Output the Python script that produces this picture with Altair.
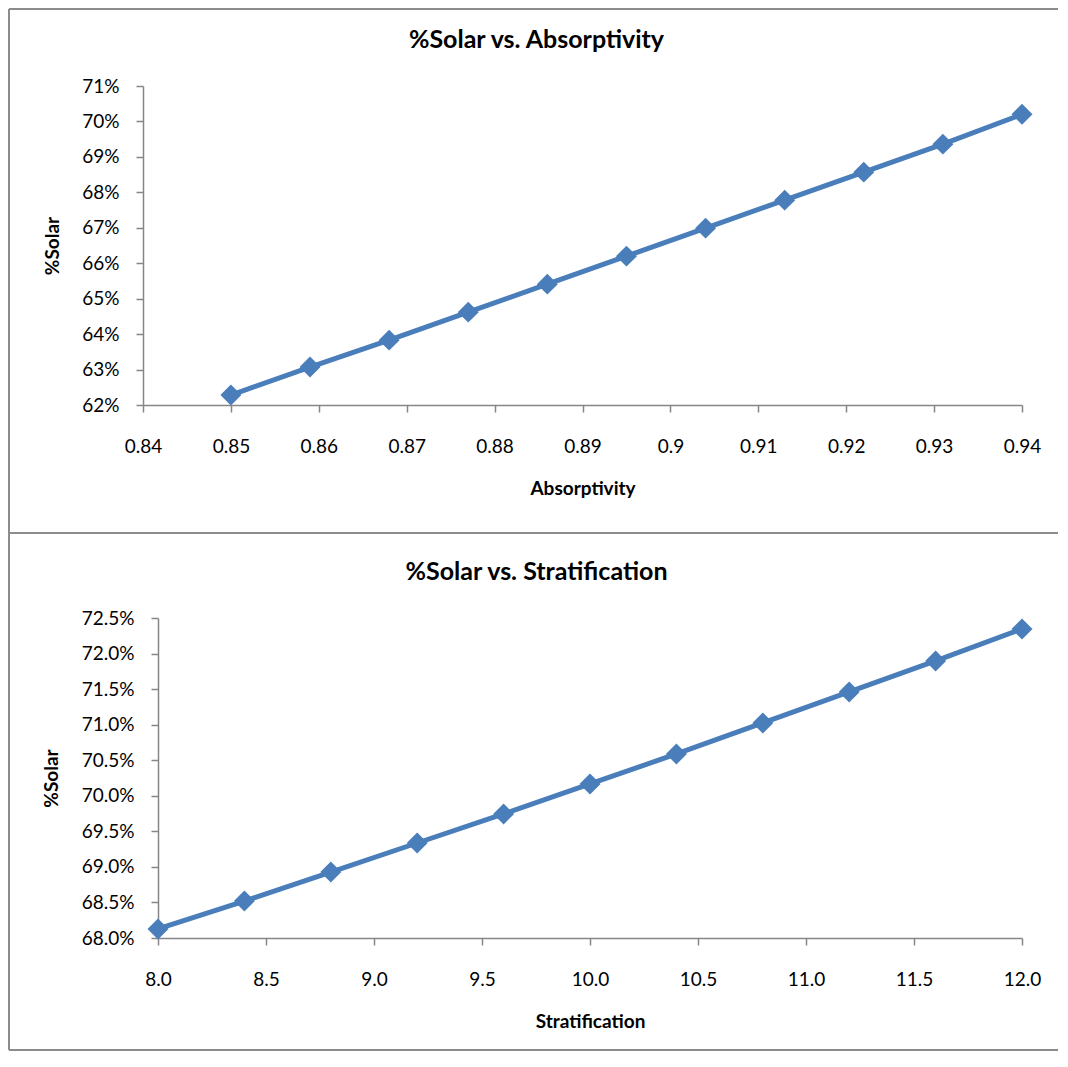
import altair as alt
import pandas as pd

# ---- data ----
absorptivity = [0.85, 0.859, 0.868, 0.877, 0.886, 0.895, 0.904, 0.913, 0.922, 0.931, 0.94]
solar_abs = [0.6228, 0.6307, 0.6383, 0.6462, 0.6541, 0.6620, 0.6699, 0.6778, 0.6857, 0.6936, 0.7020]

stratification = [8.0, 8.4, 8.8, 9.2, 9.6, 10.0, 10.4, 10.8, 11.2, 11.6, 12.0]
solar_strat = [0.68127, 0.68520, 0.68928, 0.69336, 0.69744, 0.70166, 0.70588, 0.71024, 0.71460, 0.71896, 0.72346]

abs_x_ticks = [0.84, 0.85, 0.86, 0.87, 0.88, 0.89, 0.9, 0.91, 0.92, 0.93, 0.94]
abs_y_ticks = [0.62, 0.63, 0.64, 0.65, 0.66, 0.67, 0.68, 0.69, 0.70, 0.71]
strat_x_ticks = [8.0, 8.5, 9.0, 9.5, 10.0, 10.5, 11.0, 11.5, 12.0]
strat_y_ticks = [0.68, 0.685, 0.69, 0.695, 0.70, 0.705, 0.71, 0.715, 0.72, 0.725]

titles = ["%Solar vs. Absorptivity", "%Solar vs. Stratification"]

BLUE = "#4A7EBB"
AXIS_GRAY = "#868686"
BORDER_GRAY = "#8C8C8C"
FONT = "Lato"

# ---- layout (pixels inside the single view) ----
VW, VH = 1050, 1044
# panel 1 plot box
P1 = dict(x0=135, x1=1014, y0=78, y1=397)
# panel 2 plot box
P2 = dict(x0=150, x1=1014, y0=610, y1=930)
SEP_Y = 525
BOT_Y = 1042


def series(xs, ys, xfield, xtitle, box, xdomain, ydomain, xticks, yticks, xfmt, yfmt, ytitle_x):
    df = pd.DataFrame({xfield: xs, "%Solar": ys})
    base = alt.Chart(df).encode(
        x=alt.X(f"{xfield}:Q",
                scale=alt.Scale(domain=xdomain, range=[box["x0"], box["x1"]], nice=False, zero=False),
                axis=alt.Axis(values=xticks, format=xfmt, title=xtitle, grid=False, orient="bottom",
                              offset=box["y1"] - VH, position=0,
                              labelFlush=False, labelOverlap=False, labelPadding=25,
                              titleX=(box["x0"] + box["x1"]) / 2, titleY=83,
                              titleBaseline="middle")),
        y=alt.Y("%Solar:Q",
                scale=alt.Scale(domain=ydomain, range=[box["y1"], box["y0"]], nice=False, zero=False),
                axis=alt.Axis(values=yticks, format=yfmt, title="%Solar", grid=False, orient="left",
                              offset=-box["x0"], position=0,
                              labelOverlap=False, labelPadding=17,
                              titleX=ytitle_x, titleY=(box["y0"] + box["y1"]) / 2,
                              titleBaseline="middle", titleAngle=270)),
    )
    line = base.mark_line(color=BLUE, strokeWidth=5)
    pts = base.mark_point(shape="diamond", filled=True, size=440, color=BLUE, opacity=1)
    return alt.layer(line, pts)


s1 = series(absorptivity, solar_abs, "Absorptivity", "Absorptivity", P1,
            [0.84, 0.94], [0.62, 0.71], abs_x_ticks, abs_y_ticks, "~g", ".0%", -91)
s2 = series(stratification, solar_strat, "Stratification", "Stratification", P2,
            [8.0, 12.0], [0.68, 0.725], strat_x_ticks, strat_y_ticks, ".1f", ".1%", -107)

one = pd.DataFrame({"k": [0]})


def hrule(y):
    return alt.Chart(one).mark_rule(color=BORDER_GRAY, strokeWidth=2).encode(
        x=alt.value(1), x2=alt.value(VW), y=alt.value(y))


left_rule = alt.Chart(one).mark_rule(color=BORDER_GRAY, strokeWidth=2).encode(
    x=alt.value(1), y=alt.value(1), y2=alt.value(BOT_Y))


def title_text(text, y):
    return alt.Chart(one).mark_text(
        text=text, font=FONT, fontSize=25, fontWeight="bold", color="black",
        align="center", baseline="middle"
    ).encode(x=alt.value(528.5), y=alt.value(y))


chart = alt.layer(
    hrule(1), hrule(SEP_Y), hrule(BOT_Y), left_rule,
    title_text(titles[0], 32), title_text(titles[1], 564),
    s1, s2,
).resolve_scale(x="independent", y="independent").resolve_axis(
    x="independent", y="independent"
).properties(
    width=VW, height=VH, padding=0, background="white"
).configure_view(strokeWidth=0).configure_axis(
    domainColor=AXIS_GRAY, domainWidth=1.5,
    tickColor=AXIS_GRAY, tickWidth=1.5, tickSize=7,
    labelFont=FONT, labelFontSize=19, labelColor="black",
    titleFont=FONT, titleFontSize=19, titleFontWeight="bold", titleColor="black",
)

chart.save("out.html", embed_options={"renderer": "svg", "actions": False})
